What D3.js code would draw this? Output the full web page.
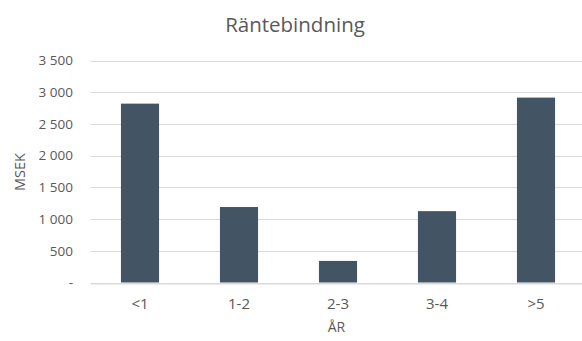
<!DOCTYPE html>
<html>
<head>
<meta charset="utf-8">
<script src="https://cdn.jsdelivr.net/npm/d3@7"></script>
<style>
  html, body { margin: 0; padding: 0; background: #fff; }
  svg { display: block; font-family: "Open Sans", "Liberation Sans", sans-serif; }
</style>
</head>
<body>
<svg id="chart" width="582" height="341"></svg>
<script>
// Räntebindning per löptid (MSEK)
const categories = ["<1", "1-2", "2-3", "3-4", ">5"];
const values = [2820, 1190, 340, 1125, 2915];
const yTicks = [0, 500, 1000, 1500, 2000, 2500, 3000, 3500];

const svg = d3.select("#chart");
const margin = { left: 90.5, right: -3.5, top: 60.5, bottom: 58.5 };
const W = 582, H = 341;
const textColor = "#595959";

const x = d3.scaleBand()
  .domain(categories)
  .range([margin.left, W - margin.right])
  .paddingInner(0.615)
  .paddingOuter(0.3075);

const y = d3.scaleLinear()
  .domain([0, 3500])
  .range([H - margin.bottom, margin.top]);

// thousands separated by a space, zero shown as a dash
const fmt = v => v === 0 ? "-" : d3.format(",")(v).replace(/,/g, " ");

// horizontal gridlines
svg.append("g")
  .selectAll("line")
  .data(yTicks)
  .join("line")
  .attr("x1", margin.left)
  .attr("x2", W)
  .attr("y1", d => Math.round(y(d)) + 0.5)
  .attr("y2", d => Math.round(y(d)) + 0.5)
  .attr("stroke", "#d9d9d9")
  .attr("stroke-width", 1);

// y axis labels
const yAxis = d3.axisLeft(y).tickValues(yTicks).tickFormat(fmt).tickSize(0).tickPadding(0);
svg.append("g")
  .attr("transform", "translate(73,0)")
  .call(yAxis)
  .call(g => g.select(".domain").remove())
  .call(g => g.selectAll("text")
    .attr("fill", textColor)
    .style("font-size", "13.5px")
    .style("font-family", "'Open Sans', sans-serif"));

// bars
svg.append("g")
  .selectAll("rect")
  .data(values)
  .join("rect")
  .attr("x", (d, i) => x(categories[i]))
  .attr("width", x.bandwidth())
  .attr("y", d => y(d))
  .attr("height", d => y(0) - y(d))
  .attr("fill", "#435465");

// x axis
const xAxis = d3.axisBottom(x).tickSize(0).tickPadding(15);
svg.append("g")
  .attr("transform", `translate(0,${Math.round(y(0)) + 0.5})`)
  .call(xAxis)
  .call(g => g.select(".domain").attr("stroke", "#d9d9d9"))
  .call(g => g.selectAll("text")
    .attr("fill", textColor)
    .style("font-size", "15px")
    .style("font-family", "'Open Sans', sans-serif"));

// title
svg.append("text")
  .attr("x", 295)
  .attr("y", 31.5)
  .attr("text-anchor", "middle")
  .attr("fill", textColor)
  .style("font-size", "20.5px")
  .text("Räntebindning");

// axis titles
svg.append("text")
  .attr("x", 336.5)
  .attr("y", 332)
  .attr("text-anchor", "middle")
  .attr("fill", textColor)
  .style("font-size", "14px")
  .text("ÅR");

svg.append("text")
  .attr("transform", "translate(25,172) rotate(-90)")
  .attr("text-anchor", "middle")
  .attr("fill", textColor)
  .style("font-size", "14.5px")
  .text("MSEK");
</script>
</body>
</html>
